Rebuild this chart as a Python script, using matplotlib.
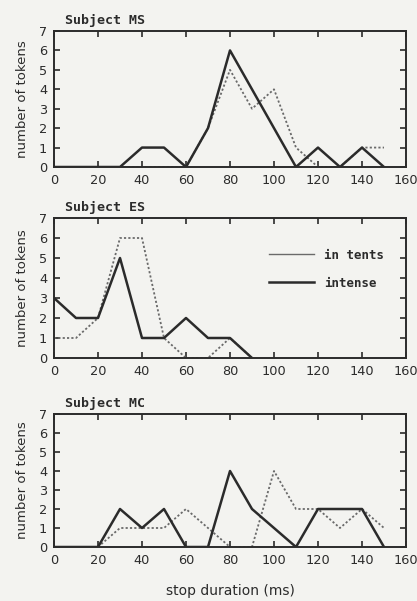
import matplotlib
matplotlib.use("Agg")
import matplotlib.pyplot as plt

# stop duration bins (ms)
durations = [0, 10, 20, 30, 40, 50, 60, 70, 80, 90, 100, 110, 120, 130, 140, 150]

# Subject MS
ms_intense = [0, 0, 0, 0, 1, 1, 0, 2, 6, 4, 2, 0, 1, 0, 1, 0]
ms_in_tents = [0, 0, 0, 0, 0, 0, 0, 2, 5, 3, 4, 1, 0, 0, 1, 1]

# Subject ES
es_x = [0, 10, 20, 30, 40, 50, 60, 70, 80, 90]
es_intense = [3, 2, 2, 5, 1, 1, 2, 1, 1, 0]
es_in_tents = [1, 1, 2, 6, 6, 1, 0, 0, 1, 0]

# Subject MC
mc_x_intense = durations
mc_intense = [0, 0, 0, 2, 1, 2, 0, 0, 4, 2, 1, 0, 2, 2, 2, 0]
mc_x_in_tents = [20, 30, 40, 50, 60, 70, 80, 90, 100, 110, 120, 130, 140, 150]
mc_in_tents = [0, 1, 1, 1, 2, 1, 0, 0, 4, 2, 2, 1, 2, 1]

subjects = ["Subject MS", "Subject ES", "Subject MC"]
x_ticks = [0, 20, 40, 60, 80, 100, 120, 140, 160]
y_ticks = [0, 1, 2, 3, 4, 5, 6, 7]

paper = "#f3f3f0"
ink = "#2b2b2b"
gray = "#6a6a6a"

fig = plt.figure(figsize=(4.17, 6.01), dpi=100, facecolor=paper)

H = 601.0
W = 417.0
boxes = [(31, 167), (218, 358), (414, 547)]
left_px, right_px = 54, 406

series = [
    ((durations, ms_intense), (durations, ms_in_tents)),
    ((es_x, es_intense), (es_x, es_in_tents)),
    ((mc_x_intense, mc_intense), (mc_x_in_tents, mc_in_tents)),
]

tick_font = dict(family="DejaVu Sans", size=9.3, color=ink)

for i, ((top, bottom), title, (s_int, s_tent)) in enumerate(zip(boxes, subjects, series)):
    ax = fig.add_axes([left_px / W, 1 - bottom / H, (right_px - left_px) / W, (bottom - top) / H])
    ax.set_facecolor(paper)
    ax.plot(s_tent[0], s_tent[1], color=gray, lw=1.3, ls=(0, (1.2, 1.2)), label="in tents")
    ax.plot(s_int[0], s_int[1], color=ink, lw=1.8, label="intense")
    ax.set_xlim(0, 160)
    ax.set_ylim(0, 7)
    ax.set_xticks(x_ticks)
    ax.set_yticks(y_ticks)
    ax.set_xticklabels([str(t) for t in x_ticks], fontdict=tick_font)
    ax.set_yticklabels([str(t) for t in y_ticks], fontdict=tick_font)
    ax.tick_params(direction="in", top=True, right=True, length=4, width=1.2, color=ink, pad=5)
    for sp in ax.spines.values():
        sp.set_color(ink)
        sp.set_linewidth(1.4)
    ax.set_ylabel("number of tokens", fontsize=9.5, color=ink, labelpad=7)
    ax.text(0.03, 1.03, title, transform=ax.transAxes, ha="left", va="bottom",
            family="DejaVu Sans Mono", fontweight="bold", fontsize=9.5, color=ink)
    if i == 1:
        leg = ax.legend(loc="upper right", bbox_to_anchor=(0.97, 0.86), frameon=False,
                        handlelength=3.6, handletextpad=0.8, labelspacing=1.2,
                        prop=dict(family="DejaVu Sans Mono", weight="bold", size=9))
        for txt in leg.get_texts():
            txt.set_color(ink)
        leg.get_lines()[0].set_linestyle("-")
        leg.get_lines()[0].set_linewidth(1.0)
    if i == 2:
        ax.set_xlabel("stop duration (ms)", fontsize=10, color=ink, labelpad=12)

fig.savefig("out.png", dpi=100, facecolor=paper)
